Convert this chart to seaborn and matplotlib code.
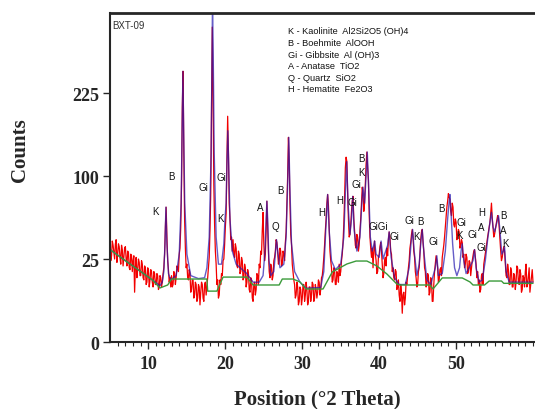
import numpy as np
import matplotlib
matplotlib.use("Agg")
import matplotlib.pyplot as plt
import seaborn as sns

# observed scan, 5-60 deg 2theta, 0.1 deg step
two_theta = np.linspace(5.0, 60.0, 551)
observed = [
    36, 24, 27, 37, 34, 29, 25, 35, 38, 23, 28, 35, 33, 26, 22, 34, 31, 21, 26, 32,          # 5
    33, 25, 21, 30, 29, 20, 19, 28, 27, 18, 24, 27, 9, 20, 26, 15, 19, 25, 23, 16,           # 7
    16, 24, 22, 15, 14, 21, 20, 12, 13, 20, 19, 11, 14, 19, 18, 13, 11, 18, 17, 12,          # 9
    12, 17, 16, 10, 11, 16, 15, 11, 13, 17, 20, 28, 48, 66, 40, 24, 19, 13, 15, 11,          # 11
    16, 11, 12, 18, 17, 12, 15, 21, 20, 18, 28, 32, 48, 90, 200, 266, 130, 55, 32, 20,       # 13
    22, 15, 14, 19, 17, 9, 10, 14, 14, 7, 8, 13, 12, 6, 7, 12, 11, 5, 9, 13,                 # 15
    12, 7, 6, 12, 13, 8, 11, 15, 20, 26, 45, 80, 190, 360, 220, 90, 50, 30, 22, 12,          # 17
    14, 7, 8, 14, 12, 17, 16, 24, 25, 34, 48, 60, 120, 185, 130, 70, 55, 38, 40, 30,         # 19
    38, 28, 26, 35, 32, 21, 20, 30, 28, 17, 18, 26, 24, 14, 15, 22, 20, 11, 13, 19,          # 21
    17, 10, 9, 15, 14, 7, 6, 12, 13, 8, 10, 17, 16, 12, 22, 20, 30, 28, 45, 61,              # 23
    35, 24, 28, 45, 72, 48, 30, 18, 15, 22, 20, 14, 16, 24, 26, 30, 38, 36, 30, 22,          # 25
    24, 32, 30, 21, 22, 30, 28, 24, 36, 44, 70, 100, 152, 120, 70, 42, 35, 22, 18, 14,       # 27
    12, 7, 8, 13, 11, 5, 6, 11, 10, 5, 7, 12, 12, 6, 8, 13, 10, 5, 6, 11,                    # 29
    11, 6, 8, 13, 12, 6, 7, 12, 10, 7, 9, 14, 13, 8, 10, 15, 16, 20, 26, 34,                 # 31
    45, 55, 70, 79, 68, 48, 30, 24, 20, 13, 14, 20, 19, 12, 12, 18, 17, 13, 22, 16,          # 33
    18, 24, 28, 36, 50, 75, 110, 124, 118, 80, 55, 40, 42, 50, 62, 72, 77, 55, 45, 34,       # 35
    32, 42, 40, 30, 34, 45, 55, 70, 87, 80, 62, 70, 90, 115, 131, 110, 95, 60, 40, 32,       # 37
    26, 32, 20, 30, 37, 28, 24, 17, 18, 26, 28, 33, 36, 30, 22, 15, 17, 24, 26, 21,          # 39
    32, 27, 38, 44, 40, 30, 28, 18, 20, 15, 14, 19, 18, 10, 11, 14, 8, 6, 12, 9,             # 41
    3, 8, 9, 5, 7, 13, 12, 16, 20, 24, 32, 36, 42, 46, 40, 30, 26, 18, 15, 11,               # 43
    12, 18, 20, 28, 38, 44, 46, 36, 30, 20, 18, 11, 12, 17, 16, 8, 9, 15, 14, 6,             # 45
    6, 12, 18, 22, 27, 24, 20, 13, 14, 19, 20, 16, 26, 30, 34, 40, 48, 56, 66, 72,           # 47
    80, 76, 74, 62, 58, 70, 66, 50, 48, 55, 52, 38, 40, 46, 44, 32, 34, 38, 36, 26,          # 49
    28, 20, 22, 28, 26, 17, 18, 24, 23, 16, 20, 24, 27, 30, 31, 26, 22, 15, 18, 12,          # 51
    14, 9, 10, 16, 17, 12, 22, 25, 28, 32, 36, 40, 44, 48, 52, 60, 70, 56, 48, 40,           # 53
    42, 46, 50, 54, 58, 56, 48, 38, 30, 24, 26, 30, 33, 30, 22, 16, 15, 22, 19, 12,          # 55
    12, 20, 18, 11, 11, 17, 16, 10, 13, 21, 20, 13, 12, 19, 17, 9, 10, 16, 15, 11,           # 57
    18, 22, 11, 12, 16, 20, 9, 12, 15, 19, 13,                                               # 59
]

# calculated profile (fit)
calc_pos = [5.0, 7.0, 9.0, 10.5, 11.5,
            11.8, 12.0, 12.15, 12.27, 12.4, 12.6, 12.9,
            13.6, 14.0, 14.25, 14.38, 14.48, 14.58, 14.72, 15.0, 15.5, 16.5, 17.3,
            17.6, 17.9, 18.15, 18.26, 18.33, 18.42, 18.55, 18.8, 19.1, 19.5,
            19.8, 19.95, 20.1, 20.22, 20.32, 20.42, 20.6, 20.9, 21.4, 22.2, 22.8, 23.6, 24.4,
            24.9, 25.15, 25.3, 25.4, 25.5, 25.65, 25.9, 26.3,
            26.5, 26.65, 26.8, 27.1,
            27.6, 27.9, 28.1, 28.25, 28.38, 28.6, 29.0, 29.7, 30.5, 32.4,
            32.8, 33.05, 33.3, 33.5, 33.8, 34.3, 35.0,
            35.4, 35.6, 35.78, 35.95, 36.2,
            36.4, 36.56, 36.75, 37.1,
            37.5, 37.75, 37.9, 38.1,
            38.3, 38.45, 38.6, 38.85, 39.1,
            39.3, 39.4, 39.6,
            40.0, 40.25, 40.5,
            41.1, 41.3, 41.55, 42.0, 42.6, 43.4,
            43.9, 44.15, 44.35, 44.55, 44.9,
            45.2, 45.45, 45.6, 45.8, 46.2, 46.7,
            47.3, 47.5, 47.7, 48.2,
            48.6, 48.9, 49.1, 49.2, 49.35, 49.55, 49.8, 50.1,
            50.45, 50.65, 50.8, 51.0, 51.3,
            52.2, 52.4, 52.6, 53.0, 53.4,
            53.8, 54.1, 54.4, 54.6, 54.8, 55.0,
            55.3, 55.52, 55.7, 55.95,
            56.15, 56.3, 56.5, 56.9, 60.0]
calc_counts = [31, 24, 18, 14, 11.5,
               13, 18, 35, 66, 35, 17, 14,
               16, 28, 70, 160, 266, 160, 70, 28, 16, 14.6, 15,
               20, 40, 130, 300, 420, 300, 130, 40, 22, 22,
               35, 55, 70, 120, 162, 120, 55, 30, 22, 19, 17, 13, 13,
               16, 30, 55, 72, 55, 25, 16, 18,
               28, 38, 30, 20,
               22, 40, 90, 152, 90, 35, 18, 13, 10.5, 10.8,
               18, 45, 79, 45, 24, 19, 22,
               40, 80, 118, 70, 42,
               55, 77, 45, 30,
               40, 70, 87, 70,
               100, 131, 95, 40, 30,
               34, 37, 28,
               26, 37, 25,
               34, 44, 26, 15, 12, 12,
               20, 36, 46, 30, 16,
               22, 38, 46, 30, 14, 12,
               20, 27, 16, 17,
               30, 55, 72, 79, 60, 35, 20, 16,
               20, 30, 35, 24, 17,
               24, 31, 20, 13, 14,
               24, 38, 52, 61, 48, 44,
               52, 58, 45, 28,
               30, 33, 18, 13, 13]

# background
bg_pos = [5.0, 7.0, 9.0, 10.5, 11.5, 12.5, 13.0, 17.6, 17.7, 18.9, 19.7, 22.8,
          23.6, 27.0, 27.4, 28.8, 29.7, 30.5, 32.7, 33.9, 35.8, 37.0, 38.4, 39.7,
          41.0, 42.3, 42.7, 46.6, 47.0, 48.2, 50.8, 51.8, 52.2, 53.7, 54.3, 55.9,
          56.2, 60.0]
bg_counts = [31, 24, 18, 14, 10.6, 11.8, 14.4, 14.4, 9.4, 9.4, 15.3, 15.3,
             11.8, 11.8, 14.4, 14.4, 13.1, 10.2, 10.2, 17.8, 22.1, 23.8, 23.8, 21.0,
             16.8, 12.2, 11.8, 11.8, 10.2, 14.9, 14.9, 13.1, 11.8, 11.8, 13.5, 13.5,
             12.5, 12.5]

legend_lines = ["K - Kaolinite  Al2Si2O5 (OH)4",
                "B - Boehmite  AlOOH",
                "Gi - Gibbsite  Al (OH)3",
                "A - Anatase  TiO2",
                "Q - Quartz  SiO2",
                "H - Hematite  Fe2O3"]

peak_tags = [("K", 10.97, 62), ("B", 13.05, 100), ("Gi", 17.08, 87), ("Gi", 19.42, 99),
             ("K", 19.42, 56), ("A", 24.48, 66), ("Q", 26.43, 49), ("B", 27.21, 84),
             ("H", 32.53, 61), ("H", 34.87, 73), ("Gi", 36.56, 71), ("Gi", 37.08, 91),
             ("K", 37.73, 105), ("B", 37.73, 123), ("GiGi", 39.94, 49), ("Gi", 42.01, 41),
             ("Gi", 43.96, 54), ("B", 45.39, 53), ("K", 44.87, 41), ("Gi", 47.08, 37),
             ("B", 48.12, 65), ("Gi", 50.71, 52), ("K", 50.45, 41.6), ("Gi", 52.14, 42),
             ("H", 53.31, 61), ("A", 53.31, 48), ("Gi", 53.31, 32.7), ("B", 56.17, 58.5),
             ("A", 56.17, 45.5), ("K", 56.43, 35.5)]

y_ticks = [0, 25, 100, 225]
x_ticks = [10, 20, 30, 40, 50]

sns.set_style("ticks")
plt.rcParams['font.family'] = ['Liberation Serif', 'DejaVu Serif']
small_font = ['Liberation Sans Narrow', 'Liberation Sans', 'DejaVu Sans']

fig = plt.figure(figsize=(5.35, 4.1), dpi=100)
ax = fig.add_axes([0.2056, 0.1634, 0.7944, 0.8025])
ax.set_yscale('function', functions=(lambda v: np.sqrt(np.clip(v, 0, None)), lambda v: np.square(v)))

sns.lineplot(x=two_theta, y=observed, ax=ax, color='#f20000', lw=0.9, estimator=None, sort=False)
sns.lineplot(x=calc_pos, y=calc_counts, ax=ax, color='#2418b0', lw=1.0, alpha=0.7, estimator=None, sort=False)
sns.lineplot(x=bg_pos, y=bg_counts, ax=ax, color='#3a9a3a', lw=1.0, estimator=None, sort=False)

ax.set_xlim(5, 60.26)
ax.set_ylim(0, 393)
ax.set_xticks(x_ticks)
ax.set_xticks(np.arange(6, 61, 1), minor=True)
ax.set_yticks(y_ticks)
ax.set_yticks([], minor=True)
ax.set_yticklabels([str(t) for t in y_ticks], fontsize=13, fontweight='bold')
ax.set_xticklabels([str(t) for t in x_ticks], fontsize=13, fontweight='bold')
ax.tick_params(axis='x', which='major', length=5, width=1, direction='out', pad=4)
ax.tick_params(axis='x', which='minor', length=3, width=0.8, direction='out')
ax.tick_params(axis='y', which='major', length=5, width=1, direction='out', pad=3)
ax.set_xlabel("")
ax.set_ylabel("")
ax.spines['right'].set_visible(False)
ax.spines['top'].set_linewidth(2.0)
ax.spines['left'].set_linewidth(1.5)
ax.spines['bottom'].set_linewidth(1.5)

for tag, tx, ty in peak_tags:
    ax.text(tx, ty, tag, ha='center', va='center', fontsize=7, family=small_font,
            color='#111111', zorder=5)

ax.text(0.006, 0.978, "BXT-09", transform=ax.transAxes, ha='left', va='top',
        fontsize=7, family=small_font, color='#333333')
for i, line in enumerate(legend_lines):
    fig.text(288 / 535, 1 - (32 + i * 11.6) / 410, line, ha='left', va='center',
             fontsize=6.6, family=small_font, color='#111111')

fig.text(20 / 535, 1 - 150 / 410, "Counts", rotation=90, ha='center', va='center',
         fontsize=15, fontweight='bold')
fig.text(317 / 535, 1 - 399 / 410, "Position (\u00b02 Theta)", ha='center', va='center',
         fontsize=15, fontweight='bold')

fig.savefig("out.png", dpi=100)
